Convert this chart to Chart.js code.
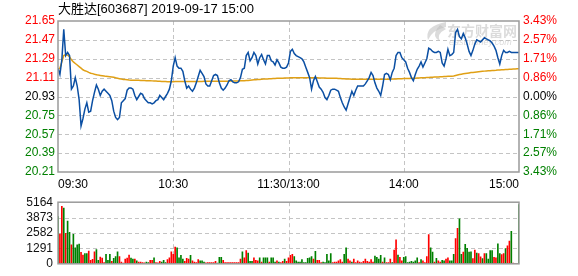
<!DOCTYPE html>
<html><head><meta charset="utf-8">
<script src="https://cdn.jsdelivr.net/npm/chart.js@4"></script>
<style>
html,body{margin:0;padding:0;background:#fff;}
#wrap{position:relative;width:578px;height:276px;overflow:hidden;background:#fff;}
#c1{position:absolute;left:0;top:0;}
#c2{position:absolute;left:0;top:190px;}
</style></head><body>
<div id="wrap"><canvas id="c1" width="578" height="190"></canvas><canvas id="c2" width="578" height="86"></canvas></div>
<script>
const chartTitle = "大胜达[603687] 2019-09-17 15:00";
const timeLabels = ["09:30","10:30","11:30/13:00","14:00","15:00"];
const timeTickIdx = [0,60,120,180,240];
const prevClose = 20.93;
const priceTicks = [20.21,20.39,20.57,20.75,20.93,21.11,21.29,21.47,21.65];
const pctLabels = ["3.43%","2.57%","1.71%","0.86%","0.00%","0.86%","1.71%","2.57%","3.43%"];
const volTicks = [0,1291,2582,3873,5164];

const price = [
21.20,21.14,21.28,21.57,21.32,21.35,21.32,21.00,21.03,21.11,
21.03,20.90,20.65,20.72,20.81,20.87,20.78,20.79,20.89,20.97,
21.04,21.00,20.94,20.98,21.00,20.98,20.96,20.94,20.89,20.79,
20.73,20.71,20.73,20.87,20.89,20.91,20.99,21.01,21.01,21.00,
20.94,20.90,20.93,20.96,20.95,20.91,20.89,20.87,20.87,20.86,
20.87,20.89,20.90,20.94,20.92,20.90,20.93,20.96,21.00,21.08,
21.22,21.30,21.22,21.20,21.20,21.17,21.08,21.01,21.03,21.00,
20.98,21.01,21.06,21.12,21.18,21.15,21.12,21.05,21.03,21.03,
21.08,21.13,21.14,21.13,21.06,21.01,20.99,21.01,21.04,21.08,
21.09,21.07,21.06,21.06,21.07,21.11,21.19,21.20,21.32,21.35,
21.27,21.30,21.35,21.32,21.24,21.30,21.33,21.28,21.24,21.32,
21.32,21.27,21.26,21.23,21.28,21.25,21.21,21.20,21.20,21.21,
21.25,21.36,21.38,21.34,21.32,21.31,21.30,21.29,21.26,21.21,
21.16,21.11,21.00,21.08,21.12,21.07,21.02,21.00,20.97,20.92,
20.90,20.94,20.99,21.00,21.00,20.99,20.98,20.92,20.87,20.83,
20.80,20.86,20.92,20.98,20.94,20.99,21.03,21.03,21.03,21.03,
21.05,21.08,21.11,21.16,21.13,21.06,21.01,20.98,20.94,21.03,
21.14,21.15,21.14,21.09,21.16,21.20,21.32,21.35,21.35,21.30,
21.28,21.26,21.20,21.16,21.11,21.08,21.14,21.19,21.22,21.26,
21.21,21.25,21.29,21.39,21.38,21.36,21.35,21.35,21.36,21.35,
21.25,21.22,21.29,21.38,21.32,21.33,21.35,21.54,21.57,21.50,
21.48,21.53,21.49,21.43,21.36,21.32,21.37,21.43,21.47,21.46,
21.45,21.47,21.49,21.48,21.47,21.46,21.44,21.41,21.37,21.30,
21.24,21.32,21.37,21.35,21.35,21.36,21.35,21.35,21.35,21.35,21.35
];

const avgPrice = [
21.19,21.20,21.26,21.32,21.33,21.325,21.31,21.28,21.26,21.245,
21.23,21.215,21.20,21.185,21.175,21.17,21.16,21.152,21.148,21.142,
21.138,21.134,21.131,21.128,21.125,21.122,21.12,21.118,21.116,21.113,
21.108,21.104,21.10,21.096,21.093,21.091,21.089,21.087,21.086,21.085,
21.085,21.084,21.084,21.083,21.083,21.082,21.081,21.080,21.080,21.079,
21.078,21.077,21.076,21.075,21.074,21.073,21.072,21.071,21.070,21.070,
21.071,21.072,21.073,21.073,21.073,21.073,21.073,21.073,21.073,21.074,
21.074,21.074,21.074,21.074,21.074,21.074,21.075,21.075,21.075,21.075,
21.075,21.075,21.075,21.076,21.076,21.076,21.076,21.076,21.076,21.076,
21.077,21.078,21.078,21.079,21.079,21.080,21.080,21.081,21.082,21.083,
21.085,21.087,21.089,21.090,21.092,21.093,21.095,21.096,21.097,21.098,
21.099,21.100,21.101,21.102,21.103,21.104,21.105,21.105,21.106,21.106,
21.107,21.108,21.108,21.108,21.108,21.108,21.108,21.108,21.108,21.108,
21.108,21.108,21.108,21.108,21.108,21.108,21.107,21.107,21.106,21.106,
21.105,21.105,21.104,21.104,21.103,21.103,21.102,21.101,21.100,21.099,
21.098,21.097,21.096,21.095,21.095,21.095,21.095,21.095,21.095,21.095,
21.095,21.095,21.095,21.095,21.095,21.095,21.095,21.095,21.095,21.095,
21.095,21.095,21.095,21.095,21.096,21.097,21.098,21.099,21.100,21.100,
21.101,21.101,21.102,21.102,21.103,21.104,21.105,21.106,21.107,21.108,
21.109,21.110,21.111,21.112,21.113,21.114,21.115,21.116,21.117,21.118,
21.119,21.120,21.121,21.122,21.123,21.124,21.125,21.130,21.135,21.140,
21.143,21.146,21.149,21.152,21.155,21.158,21.160,21.162,21.164,21.166,
21.168,21.170,21.172,21.174,21.175,21.176,21.178,21.179,21.180,21.182,
21.183,21.185,21.186,21.187,21.188,21.190,21.191,21.192,21.193,21.194,21.195
];

const volume = [
3950,2490,4820,4680,2560,3580,2630,1580,2480,1340,
1580,1650,970,730,850,850,1070,300,370,1000,
1190,290,560,480,100,800,300,800,200,450,
600,1000,600,150,50,400,480,730,480,400,
400,250,150,150,100,80,150,100,300,300,
500,100,80,200,150,300,100,350,500,1000,
800,1400,1330,500,700,400,200,450,400,700,
250,150,100,350,250,250,150,80,100,100,
100,100,200,50,550,550,300,100,100,100,
100,100,100,100,100,400,1000,500,1100,900,
200,200,500,300,250,500,150,500,500,500,
150,500,500,150,250,150,100,200,400,200,
500,700,800,600,250,150,150,350,100,100,
450,500,600,400,1050,300,300,100,150,100,
800,250,850,100,150,150,250,350,150,800,
1330,400,250,150,400,100,250,150,100,200,
400,200,150,350,150,650,550,400,700,150,
500,100,100,400,100,1150,2000,730,540,250,
550,600,100,150,200,150,250,500,100,350,
250,100,600,2440,1340,975,150,450,250,150,
300,250,400,500,250,250,800,2120,2970,3775,
800,975,1630,1290,975,1000,440,1150,900,850,
580,440,850,850,400,1100,1100,540,490,1680,
850,780,850,1270,1510,1900,2730,50,0,0,4970
];
// r = up minute, g = down minute
const volDir = [
"grrgrggrgg","ggrrggrrrr","ggrrrgggrg","ggrrrrrrgg","rgrrrrggrr",
"grrrgggrrr","rrggggrrrg","rrrrgggrrr","rrrgggrrrr","rrrrrrgrrg",
"ggrrrgrggg","rgggrgrrgr","rrrggggggg","gggrgrrrgg","gggrrrrrrg",
"grrgrrrrrr","rrrrrggggr","grrrgrrgrr","ggggggggrg","rrrrggrgrr",
"ggrrgggrrg","grggggrrgr","rgrggggrrg","grrgrrgrrrg"
].join("");

const FONT_FAMILY = "'Liberation Sans', Arial, 'Noto Sans CJK SC', sans-serif";
const FONT = {family: FONT_FAMILY, size: 12};
const GRID = '#c4c4c4';
const FRAME = '#9a9a9a';

function tickColor(v){
  if (Math.abs(v - prevClose) < 1e-6) return '#000000';
  return v > prevClose ? '#ff0000' : '#008000';
}
const fixTicks = arr => (s => { s.ticks = arr.map(v => ({value: v})); });

// dashed grid drawn through the chart's own scales
function gridPlugin(yTicks){
  return {
    id: 'dashGrid',
    beforeDatasetsDraw(chart){
      const a = chart.chartArea, c = chart.ctx;
      const xs = chart.scales.x, ys = chart.scales.y;
      c.save();
      c.strokeStyle = GRID; c.lineWidth = 1; c.setLineDash([4,3]);
      yTicks.slice(1, -1).forEach(v => {
        const y = Math.round(ys.getPixelForValue(v)) + 0.5;
        c.beginPath(); c.moveTo(a.left, y); c.lineTo(a.right, y); c.stroke();
      });
      timeTickIdx.slice(1, -1).forEach(v => {
        const x = Math.round(xs.getPixelForValue(v)) + 0.5;
        c.beginPath(); c.moveTo(x, a.top); c.lineTo(x, a.bottom); c.stroke();
      });
      c.restore();
    }
  };
}

const framePlugin = {
  id: 'frame',
  afterDatasetsDraw(chart){
    const a = chart.chartArea, c = chart.ctx;
    c.save();
    c.strokeStyle = FRAME; c.lineWidth = 1.5;
    c.strokeRect(a.left, a.top, a.right - a.left, a.bottom - a.top);
    c.restore();
  }
};
const watermarkPlugin = {
  id: 'wm',
  beforeDatasetsDraw(chart){
    const c = chart.ctx;
    c.save();
    c.fillStyle = 'rgba(190,190,190,0.55)';
    c.beginPath();
    c.moveTo(446, 22);
    c.quadraticCurveTo(424, 26, 428, 40);
    c.quadraticCurveTo(432, 30, 446, 27);
    c.closePath(); c.fill();
    c.beginPath();
    c.moveTo(440, 25);
    c.quadraticCurveTo(430, 36, 440, 41);
    c.quadraticCurveTo(436, 34, 446, 29);
    c.closePath(); c.fill();
    c.font = "bold 14px 'Noto Sans CJK SC', sans-serif";
    c.textBaseline = 'middle';
    c.fillText('东方财富网', 447, 31);
    c.font = "italic 9px 'Liberation Sans', sans-serif";
    c.fillText('eastmoney.com', 449, 42);
    c.restore();
  }
};

new Chart(document.getElementById('c1'), {
  type: 'line',
  data: {
    datasets: [
      {data: price.map((v,i)=>({x:i,y:v})), borderColor:'#0b4fa3', borderWidth:1.5, pointRadius:0, tension:0, yAxisID:'y', order:1},
      {data: avgPrice.map((v,i)=>({x:i,y:v})), borderColor:'#e0a015', borderWidth:1.5, pointRadius:0, tension:0, yAxisID:'y', order:2}
    ]
  },
  options: {
    responsive:false, animation:false, devicePixelRatio:1,
    layout:{padding:0},
    plugins:{
      legend:{display:false}, tooltip:{enabled:false},
      title:{display:true, text:chartTitle, align:'start', fullSize:false, color:'#000',
             font:{family:FONT_FAMILY, size:13, weight:'normal', lineHeight:1.2}, padding:{top:2, bottom:3.4}}
    },
    scales:{
      x:{type:'linear', min:0, max:240, afterBuildTicks:fixTicks(timeTickIdx),
         ticks:{autoSkip:false, maxRotation:0, align:'inner', padding:5, color:'#000', font:FONT,
                callback:(v)=>timeLabels[timeTickIdx.indexOf(v)]},
         grid:{display:false, drawTicks:false}, border:{display:false},
         afterFit:s=>{s.height=18;}},
      y:{position:'left', min:20.21, max:21.65, afterBuildTicks:fixTicks(priceTicks),
         ticks:{autoSkip:false, color:ctx=>tickColor(ctx.tick.value), font:FONT, padding:3, callback:v=>Number(v).toFixed(2)},
         grid:{display:false, drawTicks:false}, border:{display:false},
         afterFit:s=>{s.width=58;}},
      y2:{position:'right', min:20.21, max:21.65, afterBuildTicks:fixTicks(priceTicks),
         ticks:{autoSkip:false, color:ctx=>tickColor(ctx.tick.value), font:FONT, padding:4, callback:(v,i)=>pctLabels[i]},
         grid:{display:false, drawTicks:false}, border:{display:false},
         afterFit:s=>{s.width=59;}}
    }
  },
  plugins:[gridPlugin(priceTicks), watermarkPlugin, framePlugin]
});

new Chart(document.getElementById('c2'), {
  type: 'bar',
  data: {
    datasets: [{
      data: volume.map((v,i)=>({x:i,y:v})),
      backgroundColor: volume.map((v,i)=> volDir[i]==='r' ? '#ff0000' : '#008000'),
      barThickness:1, borderWidth:0
    }]
  },
  options: {
    responsive:false, animation:false, devicePixelRatio:1,
    layout:{padding:{top:8, right:59, bottom:7, left:0}},
    plugins:{legend:{display:false}, tooltip:{enabled:false}},
    scales:{
      x:{type:'linear', min:0, max:240, offset:false, afterBuildTicks:fixTicks(timeTickIdx),
         ticks:{display:false}, grid:{display:false, drawTicks:false},
         border:{display:false}, afterFit:s=>{s.height=0;}},
      y:{min:0, max:5164, afterBuildTicks:fixTicks(volTicks),
         ticks:{autoSkip:false, color:'#111', font:FONT, padding:5, callback:v=>String(v)},
         grid:{display:false, drawTicks:false}, border:{display:false},
         afterFit:s=>{s.width=58;}}
    }
  },
  plugins:[gridPlugin(volTicks), framePlugin]
});
</script>
</body></html>
